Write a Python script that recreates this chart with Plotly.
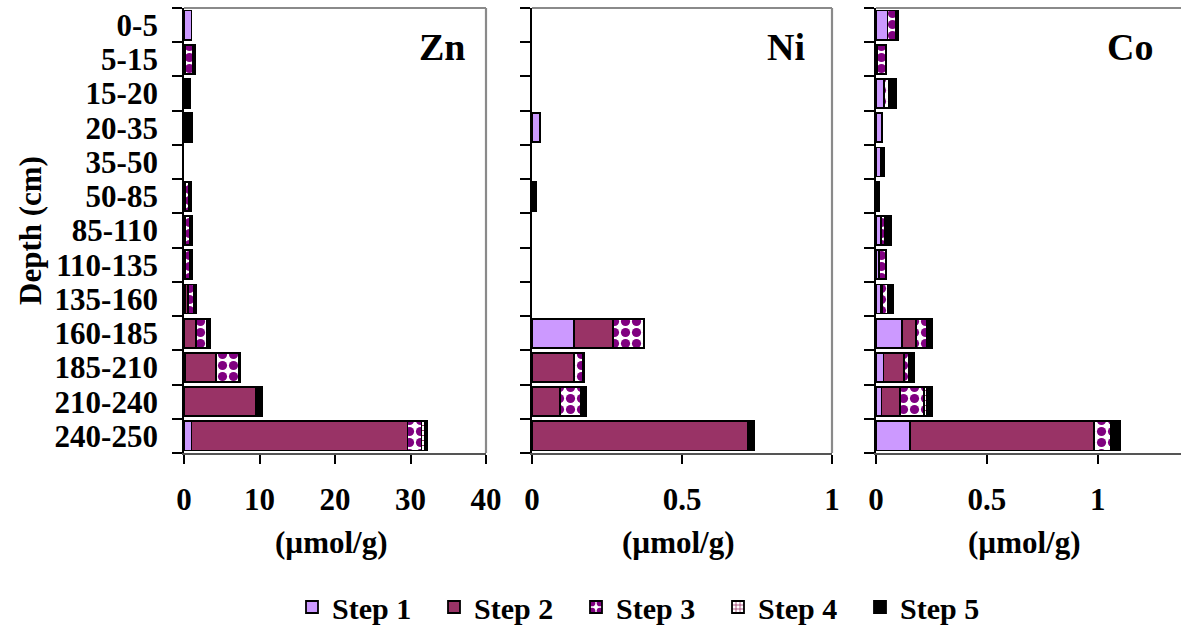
import plotly.graph_objects as go

depths = ["0-5", "5-15", "15-20", "20-35", "35-50", "50-85", "85-110",
          "110-135", "135-160", "160-185", "185-210", "210-240", "240-250"]
steps = ["Step 1", "Step 2", "Step 3", "Step 4", "Step 5"]

zn_step1 = [1.0, 0.2, 0.15, 0.25, 0, 0.15, 0.15, 0.15, 0.1, 0, 0.2, 0, 1.0]
zn_step2 = [0, 0, 0, 0, 0, 0, 0, 0, 0.4, 1.55, 4.0, 9.5, 28.6]
zn_step3 = [0, 1.0, 0, 0, 0, 0.55, 0.6, 0.6, 0.8, 1.45, 3.1, 0.35, 1.85]
zn_step4 = [0, 0, 0, 0, 0, 0, 0, 0, 0, 0, 0, 0.1, 0.45]
zn_step5 = [0, 0.3, 0.65, 0.85, 0, 0.3, 0.3, 0.3, 0.35, 0.45, 0.15, 0.35, 0.35]

ni_step1 = [0, 0, 0, 0.027, 0, 0, 0, 0, 0, 0.139, 0, 0, 0]
ni_step2 = [0, 0, 0, 0, 0, 0, 0, 0, 0, 0.132, 0.139, 0.092, 0.718]
ni_step3 = [0, 0, 0, 0, 0, 0, 0, 0, 0, 0.103, 0.032, 0.071, 0]
ni_step4 = [0, 0, 0, 0, 0, 0, 0, 0, 0, 0, 0, 0, 0]
ni_step5 = [0, 0, 0, 0, 0, 0.013, 0, 0, 0, 0, 0.004, 0.018, 0.023]

co_step1 = [0.052, 0.007, 0.037, 0.028, 0.022, 0.003, 0.022, 0.013, 0.022, 0.116, 0.034, 0.025, 0.153]
co_step2 = [0, 0, 0, 0, 0, 0, 0, 0, 0.005, 0.063, 0.092, 0.082, 0.829]
co_step3 = [0.036, 0.039, 0.021, 0, 0, 0.012, 0.02, 0.032, 0.025, 0.052, 0.024, 0.108, 0.078]
co_step4 = [0, 0, 0, 0, 0, 0, 0, 0, 0, 0, 0, 0.015, 0]
co_step5 = [0.01, 0, 0.033, 0, 0.015, 0, 0.024, 0, 0.025, 0.023, 0.021, 0.024, 0.042]

panels = [
    ("Zn", [zn_step1, zn_step2, zn_step3, zn_step4, zn_step5]),
    ("Ni", [ni_step1, ni_step2, ni_step3, ni_step4, ni_step5]),
    ("Co", [co_step1, co_step2, co_step3, co_step4, co_step5]),
]

W, H = 1181, 635
FONT = "Liberation Serif"
FS = 31

styles = [
    dict(color="#CC99FF"),
    dict(color="#993366"),
    dict(color="white", pattern=dict(shape=".", fgcolor="#800080", bgcolor="white",
                                     fgopacity=1, size=11, solidity=0.55)),
    dict(color="white", pattern=dict(shape="+", fgcolor="#993366", bgcolor="white",
                                     fgopacity=1, size=5, solidity=0.35)),
    dict(color="black"),
]

fig = go.Figure()
for p, (name, series) in enumerate(panels):
    sfx = "" if p == 0 else str(p + 1)
    for s, vals in enumerate(series):
        mk = dict(styles[s])
        mk["line"] = dict(color="black", width=1.8)
        fig.add_trace(go.Bar(
            y=depths, x=[v if v > 0 else None for v in vals], orientation="h",
            name=steps[s], marker=mk, legendgroup=steps[s], showlegend=(p == 0),
            xaxis="x" + sfx, yaxis="y" + sfx,
        ))

px_x = [(184, 486), (532, 832), (876, 1181)]
y_top, y_bot = 8, 453
ydom = [1 - y_bot / H, 1 - y_top / H]
xranges = [[0, 40], [0, 1], [0, 1.376]]
xtick = [[0, 10, 20, 30, 40], [0, 0.5, 1], [0, 0.5, 1]]
xtext = [["0", "10", "20", "30", "40"], ["0", "0.5", "1"], ["0", "0.5", "1"]]

layout = dict(
    width=W, height=H, margin=dict(l=0, r=0, t=0, b=0),
    paper_bgcolor="white", plot_bgcolor="white",
    barmode="stack", bargap=0.15,
    font=dict(family=FONT, size=FS, color="black", weight="bold"),
    showlegend=True,
    legend=dict(orientation="h", x=292 / W, xanchor="left", y=1 - 607 / H, yanchor="middle",
                font=dict(size=30, family=FONT, weight="bold"), itemwidth=30,
                entrywidth=97, entrywidthmode="pixels",
                tracegroupgap=0, bgcolor="rgba(0,0,0,0)"),
)
shapes = []
annotations = []
for p in range(3):
    sfx = "" if p == 0 else str(p + 1)
    x0, x1 = px_x[p]
    layout["xaxis" + sfx] = dict(
        domain=[x0 / W, x1 / W], range=xranges[p], anchor="y" + sfx,
        tickmode="array", tickvals=xtick[p], ticktext=xtext[p], ticks="outside", ticklen=9,
        tickwidth=1.5, tickcolor="black", showline=True, linecolor="#555555", linewidth=1.5,
        showgrid=False, zeroline=False, automargin=False, ticklabelstandoff=9,
        tickfont=dict(size=FS, family=FONT, weight="bold"),
    )
    layout["yaxis" + sfx] = dict(
        domain=ydom, type="category", categoryorder="array", categoryarray=depths,
        tickmode="array", tickvals=depths, ticktext=depths,
        range=[12.5, -0.5], anchor="x" + sfx, ticks="outside", ticklen=10, tickwidth=1.5,
        tickcolor="black", tickson="boundaries", showline=True, linecolor="black",
        linewidth=1.8, showgrid=False, zeroline=False, automargin=False,
        showticklabels=(p == 0), ticklabelstandoff=18,
        tickfont=dict(size=FS, family=FONT, weight="bold"),
    )
    shapes.append(dict(type="line", xref="x%s domain" % sfx, yref="y%s domain" % sfx,
                       x0=0, x1=1, y0=1, y1=1, line=dict(color="#8a8a8a", width=2.2),
                       layer="below"))
    if p < 2:
        shapes.append(dict(type="line", xref="x%s domain" % sfx, yref="y%s domain" % sfx,
                           x0=1, x1=1, y0=0, y1=1, line=dict(color="#8a8a8a", width=2.2),
                           layer="below"))
    annotations.append(dict(text="(µmol/g)", xref="paper", yref="paper",
                            x=((x0 + x1) / 2 - 4) / W, y=1 - 542 / H, showarrow=False,
                            xanchor="center", yanchor="middle",
                            font=dict(size=FS, family=FONT, weight="bold")))

for txt, cx in [("Zn", 442), ("Ni", 786), ("Co", 1130)]:
    annotations.append(dict(text=txt, xref="paper", yref="paper", x=cx / W, y=1 - 47 / H,
                            showarrow=False, xanchor="center", yanchor="middle",
                            font=dict(size=38, family=FONT, weight="bold")))

annotations.append(dict(text="Depth (cm)", xref="paper", yref="paper", x=30 / W,
                        y=1 - 231 / H, showarrow=False, textangle=-90,
                        xanchor="center", yanchor="middle",
                        font=dict(size=FS, family=FONT, weight="bold")))

layout["shapes"] = shapes
layout["annotations"] = annotations
fig.update_layout(**layout)
fig.write_html("out.html")
